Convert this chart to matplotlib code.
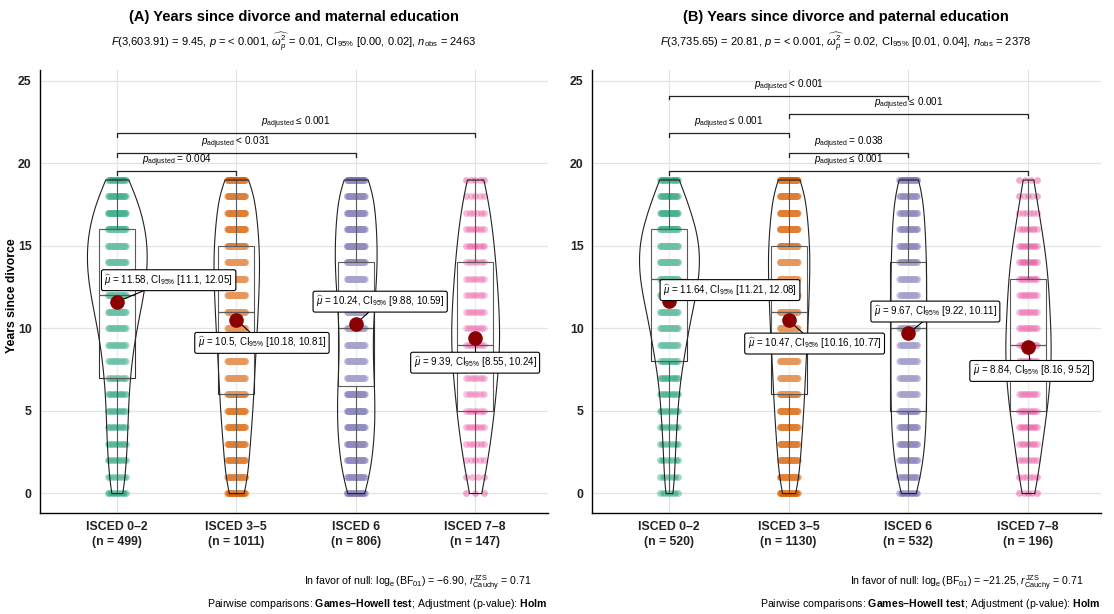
import numpy as np
import matplotlib
matplotlib.use("Agg")
import matplotlib.pyplot as plt

plt.rcParams['font.family'] = ['Liberation Sans', 'DejaVu Sans']
plt.rcParams['mathtext.fontset'] = 'custom'
plt.rcParams['mathtext.rm'] = 'Liberation Sans'
plt.rcParams['mathtext.it'] = 'Liberation Sans:italic'
plt.rcParams['mathtext.bf'] = 'Liberation Sans:bold'

# ---------------- data ----------------
years = list(range(20))
categories = ["ISCED 0–2", "ISCED 3–5", "ISCED 6", "ISCED 7–8"]
colors = ["#1B9E77", "#D95F02", "#7570B3", "#E7298A"]

# (A) maternal education: counts per year since divorce (0..19)
a_isced02 = [12, 10, 13, 14, 15, 15, 16, 18, 20, 23, 27, 32, 37, 41, 43, 43, 40, 35, 26, 19]
a_isced35 = [30, 30, 35, 38, 42, 45, 48, 50, 52, 55, 58, 60, 62, 64, 65, 64, 60, 56, 50, 47]
a_isced6 = [25, 30, 36, 40, 42, 43, 42, 40, 38, 37, 38, 40, 43, 46, 48, 48, 46, 43, 40, 41]
a_isced78 = [3, 4, 5, 6, 7, 8, 8, 9, 10, 10, 10, 10, 9, 9, 8, 8, 7, 6, 5, 5]
a_n = [499, 1011, 806, 147]
a_q1 = [7, 6, 6.5, 5]
a_median = [12, 11, 10, 9]
a_q3 = [16, 15, 14, 14]
a_means = [11.58, 10.5, 10.24, 9.39]
a_ci_low = ["11.1", "10.18", "9.88", "8.55"]
a_ci_high = ["12.05", "10.81", "10.59", "10.24"]
a_pairs = [(1, 4), (1, 3), (1, 2)]
a_pvals = ["≤ 0.001", "< 0.031", "= 0.004"]

# (B) paternal education
b_isced02 = [8, 8, 9, 10, 12, 13, 15, 18, 22, 27, 31, 36, 43, 47, 50, 48, 45, 34, 26, 18]
b_isced35 = [32, 33, 39, 43, 47, 50, 54, 56, 58, 62, 65, 67, 69, 71, 73, 72, 67, 63, 56, 53]
b_isced6 = [15, 20, 24, 27, 28, 29, 29, 29, 29, 29, 29, 29, 29, 29, 29, 28, 27, 25, 23, 25]
b_isced78 = [5, 6, 7, 8, 10, 11, 13, 13, 14, 14, 14, 12, 13, 12, 11, 10, 8, 6, 5, 4]
b_n = [520, 1130, 532, 196]
b_q1 = [8, 6, 5, 5]
b_median = [13, 11, 10, 9]
b_q3 = [16, 15, 14, 13]
b_means = [11.64, 10.47, 9.67, 8.84]
b_ci_low = ["11.21", "10.16", "9.22", "8.16"]
b_ci_high = ["12.08", "10.77", "10.11", "9.52"]
b_pairs = [(1, 3), (2, 4), (1, 2), (2, 3), (1, 4)]
b_pvals = ["< 0.001", "≤ 0.001", "≤ 0.001", "= 0.038", "≤ 0.001"]

# ---------------- layout ----------------
W, H = 1114, 614
fig = plt.figure(figsize=(W / 100, H / 100), dpi=100)


def fx(px):
    return px / W


def fy(py):
    return 1 - py / H


panel_top, panel_bot = 70, 513
ylim = (-1.21, 25.64)


def kde(counts, grid):
    vals = np.repeat(np.array(years, float), counts)
    n = len(vals)
    sd = vals.std(ddof=1)
    q75, q25 = np.percentile(vals, [75, 25])
    bw = 0.9 * min(sd, (q75 - q25) / 1.34) * n ** -0.2
    z = (grid[:, None] - vals[None, :]) / bw
    return np.exp(-0.5 * z ** 2).sum(1) / (n * bw * np.sqrt(2 * np.pi))


def draw_panel(left_px, right_px, counts_list, ns, q1, med, q3, means, cil, cih,
               label_pos, pairs, levels, pvals, ylabel):
    ax = fig.add_axes([fx(left_px), fy(panel_bot), fx(right_px - left_px),
                       (panel_bot - panel_top) / H])
    ax.set_xlim(0.357, 4.61)
    ax.set_ylim(*ylim)
    for s in ['top', 'right']:
        ax.spines[s].set_visible(False)
    for s in ['left', 'bottom']:
        ax.spines[s].set_linewidth(1.0)
        ax.spines[s].set_color('black')
    ax.set_yticks([0, 5, 10, 15, 20, 25])
    ax.set_xticks([1, 2, 3, 4])
    ax.set_xticklabels([f"{c}\n(n = {n})" for c, n in zip(categories, ns)],
                       fontsize=8.8, fontweight='bold', linespacing=1.3, color='#222222')
    for t in ax.get_yticklabels():
        t.set_fontsize(8.8)
        t.set_fontweight('bold')
        t.set_color('#222222')
    ax.tick_params(length=0, pad=6)
    ax.grid(True, color='#e3e3e3', lw=0.9)
    ax.set_axisbelow(True)
    if ylabel:
        ax.set_ylabel(ylabel, fontsize=8.8, fontweight='bold')
        ax.yaxis.set_label_coords((18 - left_px) / (right_px - left_px), 0.49)

    grid = np.linspace(0, 19, 300)
    dens = [kde(c, grid) for c in counts_list]
    dmax = max(d.max() for d in dens)
    jit = 0.075
    for i, c in enumerate(counts_list):
        x0 = i + 1
        xs, ys = [], []
        for y, k in zip(years, c):
            if k == 1:
                xs.append(x0)
                ys.append(y)
            elif k > 1:
                xs.extend(list(x0 + np.linspace(-jit, jit, k)))
                ys.extend([y] * k)
        ax.scatter(xs, ys, s=24, color=colors[i], alpha=0.4, linewidths=0, zorder=2)
        # boxplot
        lo = min(y for y, k in zip(years, c) if k > 0)
        hi = max(y for y, k in zip(years, c) if k > 0)
        stats = [dict(med=med[i], q1=q1[i], q3=q3[i], whislo=lo, whishi=hi, fliers=[])]
        ax.bxp(stats, positions=[x0], widths=0.3, showcaps=False, showfliers=False,
               patch_artist=True,
               boxprops=dict(facecolor=(1, 1, 1, 0.2), edgecolor='#333333', lw=0.8),
               medianprops=dict(color='#333333', lw=0.9),
               whiskerprops=dict(color='#333333', lw=0.8), zorder=3, manage_ticks=False)
        # violin
        hw = dens[i] / dmax * 0.25
        ax.fill_betweenx(grid, x0 - hw, x0 + hw, facecolor=(1, 1, 1, 0.2),
                         edgecolor='#222222', lw=0.8, zorder=4)
        # mean + label
        lx, ly = label_pos[i]
        ax.plot([x0, lx], [means[i], ly], color='black', lw=0.8, zorder=5)
        ax.plot(x0, means[i], 'o', color='#8B0000', ms=9.5, mec='#8B0000', zorder=6)
        lab = (r"$\widehat{\mu}$ = " + f"{means[i]}" + r", CI$_{95\%}$ [" +
               f"{cil[i]}, {cih[i]}]")
        ax.text(lx, ly, lab, ha='center', va='center', fontsize=7, zorder=7,
                bbox=dict(boxstyle='round,pad=0.3,rounding_size=0.2', fc='white',
                          ec='black', lw=0.8))
    # brackets
    for (a, b), lev, pv in zip(pairs, levels, pvals):
        ax.plot([a, a, b, b], [lev - 0.22, lev, lev, lev - 0.22], color='#222222',
                lw=0.9, zorder=5, clip_on=False)
        ax.text((a + b) / 2, lev + 0.12, r"$\mathit{p}_{\rm adjusted}$ " + pv,
                ha='center', va='bottom', fontsize=7.1, zorder=5)
    return ax


a_label_pos = [(1.434, 12.9), (2.215, 9.1), (3.205, 11.6), (4.0, 7.9)]
b_label_pos = [(1.51, 12.3), (2.217, 9.06), (3.226, 11.0), (4.03, 7.4)]
a_levels = [21.8, 20.6, 19.5]
b_levels = [24.08, 22.96, 21.8, 20.6, 19.5]

axA = draw_panel(40, 548, [a_isced02, a_isced35, a_isced6, a_isced78], a_n,
                 a_q1, a_median, a_q3, a_means, a_ci_low, a_ci_high,
                 a_label_pos, a_pairs, a_levels, a_pvals, "Years since divorce")
axB = draw_panel(592, 1101, [b_isced02, b_isced35, b_isced6, b_isced78], b_n,
                 b_q1, b_median, b_q3, b_means, b_ci_low, b_ci_high,
                 b_label_pos, b_pairs, b_levels, b_pvals, None)

# titles & subtitles
for cx, title, sub in [
    (294, "(A) Years since divorce and maternal education",
     r"$\mathit{F}$(3,603.91) = 9.45, $\mathit{p}$ = < 0.001, $\widehat{\omega_{p}^{2}}$ = 0.01, "
     r"CI$_{95\%}$ [0.00, 0.02], $\mathit{n}_{\rm obs}$ = 2463"),
    (846, "(B) Years since divorce and paternal education",
     r"$\mathit{F}$(3,735.65) = 20.81, $\mathit{p}$ = < 0.001, $\widehat{\omega_{p}^{2}}$ = 0.02, "
     r"CI$_{95\%}$ [0.01, 0.04], $\mathit{n}_{\rm obs}$ = 2378")]:
    fig.text(fx(cx), fy(17), title, ha='center', va='center', fontsize=10.5,
             fontweight='bold')
    fig.text(fx(cx), fy(42), sub, ha='center', va='center', fontsize=8)

# captions
for rx, bf in [(532, "−6.90"), (1084, "−21.25")]:
    fig.text(fx(rx), fy(583),
             r"In favor of null: $\log_{\rm e}(\mathrm{BF}_{01})$ = " + bf +
             r", $\mathit{r}_{\rm Cauchy}^{\rm JZS}$ = 0.71",
             ha='right', va='center', fontsize=7.6)
for rx in [547, 1100]:
    fig.text(fx(rx), fy(604),
             r"Pairwise comparisons: $\mathbf{Games–Howell\ test}$; Adjustment (p-value): $\mathbf{Holm}$",
             ha='right', va='center', fontsize=7.6)

fig.savefig("out.png", dpi=100)
